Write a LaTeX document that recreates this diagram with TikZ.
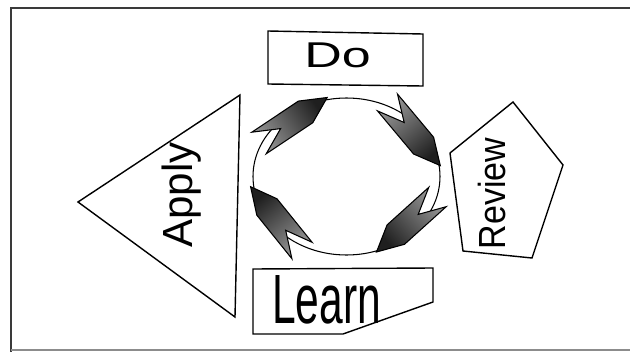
\documentclass[tikz,border=0pt]{standalone}
\usepackage{fontspec}
\setmainfont{Liberation Sans}
\definecolor{framedark}{HTML}{3A3A3A}
\definecolor{framelight}{HTML}{8C8C8C}
\begin{document}
\begin{tikzpicture}[x=0.02cm,y=-0.02cm,
  shapeline/.style={draw=black,line width=0.8pt,line join=miter},
  cyclearrow/.style={draw=black,line width=0.6pt,line join=miter,top color=black!40,bottom color=black!88},
  lbl/.style={inner sep=0pt,anchor=base,text=black}]
\useasboundingbox (0,0) rectangle (630,352);
\fill[white] (0,0) rectangle (630,352);
% frame
\draw[framedark,line width=1.3pt] (11,352) -- (11,8) -- (632,8);
\draw[framelight,line width=1.2pt] (11,350) -- (632,350);
% Do box
\draw[shapeline] (268,31) -- (423,34) -- (423,86) -- (268,84) -- cycle;
\node[lbl,xscale=1.45] (do) at (337.5,67) {\fontsize{20.4}{24}\selectfont Do};
% Learn box
\draw[shapeline] (253,269) -- (433,268) -- (433,302) -- (343,334) -- (253,334) -- cycle;
\node[lbl,xscale=0.61] (learn) at (326.5,323) {\fontsize{39.7}{44}\selectfont Learn};
% Apply triangle
\draw[shapeline] (78,202) -- (240,95) -- (235,317) -- cycle;
\node[lbl,rotate=90,xscale=1.0] (apply) at (193,195) {\fontsize{24}{28}\selectfont Apply};
% Review pentagon
\draw[shapeline] (513,102) -- (563,165) -- (532,258) -- (463,251) -- (450,153) -- cycle;
\node[lbl,rotate=90,xscale=0.9] (review) at (505,193.5) {\fontsize{21.5}{26}\selectfont Review};
% cycle ellipse
\draw[line width=0.6pt] (346.5,176.5) ellipse [x radius=93.5, y radius=78.5];
% arrows
\path[cyclearrow,shading angle=123.7] (266.2,153.8) -- (280.6,128.6) -- (251.8,132.2) -- (298.4,101.1) -- (327.2,97.5) -- (312.8,122.7) -- cycle;
\path[cyclearrow,shading angle=39.9] (397.5,94.1) -- (404.2,122.5) -- (377.5,110.9) -- (413.6,154.0) -- (440.3,165.6) -- (433.6,137.2) -- cycle;
\path[cyclearrow,shading angle=-47.9] (446.2,206.7) -- (418.2,214.4) -- (428.8,187.3) -- (387.1,224.9) -- (376.5,252.0) -- (404.5,244.3) -- cycle;
\path[cyclearrow,shading angle=218.9] (312.1,242.3) -- (285.7,230.3) -- (291.9,258.7) -- (256.8,215.1) -- (250.6,186.7) -- (277.0,198.8) -- cycle;
\end{tikzpicture}
\end{document}
